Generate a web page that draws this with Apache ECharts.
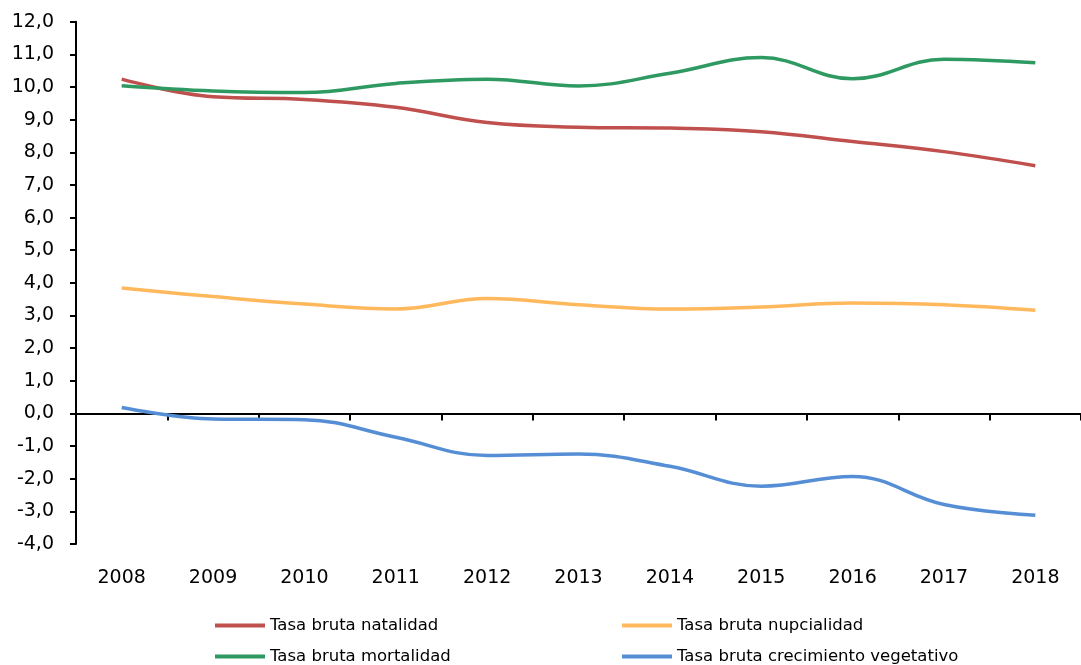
<!DOCTYPE html>
<html>
<head>
<meta charset="utf-8">
<script src="https://cdn.jsdelivr.net/npm/echarts@6/dist/echarts.min.js"></script>
<style>
  html, body { margin: 0; padding: 0; background: #fff; }
  #chart { width: 1081px; height: 665px; }
</style>
</head>
<body>
<div id="chart"></div>
<script>
// Años
const years = ['2008', '2009', '2010', '2011', '2012', '2013', '2014', '2015', '2016', '2017', '2018'];

// Tasas brutas (por 1.000 habitantes)
const natalidad   = [10.24, 9.70, 9.62, 9.38, 8.91, 8.77, 8.74, 8.63, 8.33, 8.02, 7.59];
const mortalidad  = [10.04, 9.88, 9.83, 10.11, 10.24, 10.03, 10.42, 10.90, 10.25, 10.85, 10.74];
const nupcialidad = [3.84, 3.58, 3.35, 3.20, 3.52, 3.33, 3.20, 3.26, 3.38, 3.33, 3.16];
const crecimiento = [0.18, -0.17, -0.19, -0.73, -1.29, -1.24, -1.62, -2.23, -1.93, -2.79, -3.12];

// Rango del eje vertical
const yMin = -4;
const yMax = 12;
const yStep = 1;

const FONT = 'DejaVu Sans';

const chart = echarts.init(document.getElementById('chart'), null, { renderer: 'canvas' });

function line(name, data, color) {
  return {
    name: name,
    type: 'line',
    xAxisIndex: 0,
    data: data,
    smooth: 0.4,
    symbol: 'none',
    lineStyle: { color: color, width: 3.5 },
    itemStyle: { color: color },
    z: 3
  };
}

const legendText = { fontFamily: FONT, fontSize: 16.5, color: '#000', lineHeight: 17 };

// Una entrada de leyenda por celda de la cuadrícula 2×2
function legendItem(left, top, name) {
  return {
    orient: 'horizontal',
    left: left,
    top: top,
    padding: 0,
    icon: 'rect',
    itemWidth: 50,
    itemHeight: 4,
    textStyle: legendText,
    data: [name]
  };
}

chart.setOption({
  animation: false,
  backgroundColor: '#fff',
  grid: { left: 76, right: -7, top: 21.7, bottom: 121, containLabel: false },
  xAxis: [
    {
      // eje sobre el cero, con marcas entre categorías
      type: 'category',
      data: years,
      boundaryGap: true,
      axisLine: { onZero: true, lineStyle: { color: '#000', width: 2 } },
      axisTick: { show: true, length: 7, lineStyle: { color: '#000', width: 2 } },
      axisLabel: { show: false },
      splitLine: { show: false }
    },
    {
      // rótulos de los años al pie del gráfico
      type: 'category',
      data: years,
      position: 'bottom',
      boundaryGap: true,
      axisLine: { show: false, onZero: false },
      axisTick: { show: false },
      axisLabel: { show: true, margin: 25, fontFamily: FONT, fontSize: 19, color: '#000' },
      splitLine: { show: false }
    }
  ],
  yAxis: {
    type: 'value',
    min: yMin,
    max: yMax,
    interval: yStep,
    axisLine: { show: true, lineStyle: { color: '#000', width: 2 } },
    axisTick: { show: true, inside: false, length: 6, lineStyle: { color: '#000', width: 2 } },
    axisLabel: {
      margin: 22,
      fontFamily: FONT,
      fontSize: 19,
      color: '#000',
      formatter: v => v.toFixed(1).replace('.', ',')
    },
    splitLine: { show: false }
  },
  legend: [
    legendItem(215, 617, 'Tasa bruta natalidad'),
    legendItem(622, 617, 'Tasa bruta nupcialidad'),
    legendItem(215, 648, 'Tasa bruta mortalidad'),
    legendItem(622, 648, 'Tasa bruta crecimiento vegetativo')
  ],
  series: [
    line('Tasa bruta natalidad', natalidad, '#C0504D'),
    line('Tasa bruta mortalidad', mortalidad, '#2E9A62'),
    line('Tasa bruta nupcialidad', nupcialidad, '#FFB85C'),
    line('Tasa bruta crecimiento vegetativo', crecimiento, '#558ED5')
  ]
});
</script>
</body>
</html>
